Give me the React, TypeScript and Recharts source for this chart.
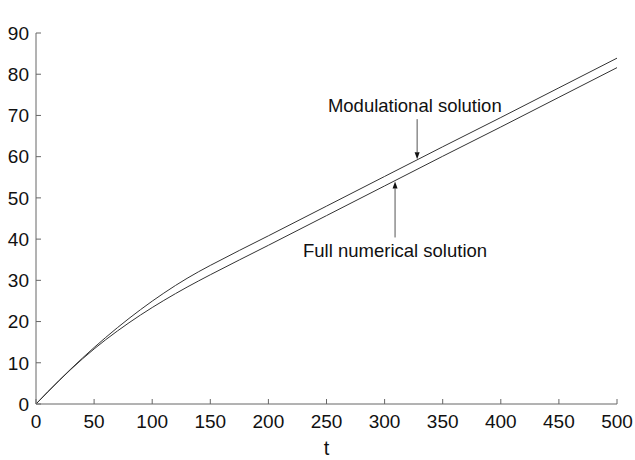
import React from "react";
import {
  LineChart,
  Line,
  XAxis,
  YAxis,
  ReferenceLine,
  ReferenceDot,
  Label,
} from "recharts";

const tValues = [0, 10, 20, 30, 40, 50, 60, 70, 80, 90, 100, 110, 120, 130, 140, 150, 200, 250, 300, 350, 400, 450, 500];
const modulational = [0, 2.9, 5.75, 8.5, 11.15, 13.7, 16.15, 18.5, 20.75, 22.9, 24.95, 26.9, 28.75, 30.48, 32.1, 33.62, 40.8, 48.0, 55.2, 62.4, 69.5, 76.7, 83.9];
const fullNumerical = [0, 2.9, 5.7, 8.4, 10.95, 13.35, 15.6, 17.7, 19.7, 21.6, 23.4, 25.12, 26.77, 28.35, 29.87, 31.35, 38.5, 45.7, 52.9, 60.1, 67.2, 74.4, 81.6];
const xTicks = [0, 50, 100, 150, 200, 250, 300, 350, 400, 450, 500];
const yTicks = [0, 10, 20, 30, 40, 50, 60, 70, 80, 90];

const data = tValues.map((t, i) => ({
  t,
  mod: modulational[i],
  full: fullNumerical[i],
}));

const FONT = "'Liberation Sans', Arial, Helvetica, sans-serif";
const AXIS = "#666";
const INK = "#333";

// vertical arrow, tip at (x2, y2)
const Arrow = (p: any) => {
  const { x1, y1, x2, y2 } = p;
  if (x1 == null || y2 == null) return null;
  const s = y2 > y1 ? 1 : -1;
  const head = 7;
  return (
    <g>
      <line x1={x1} y1={y1} x2={x2} y2={y2 - s * head} stroke="#555" strokeWidth={1} />
      <polygon
        points={`${x2 - 2.5},${y2 - s * head} ${x2 + 2.5},${y2 - s * head} ${x2},${y2}`}
        fill="#111"
      />
    </g>
  );
};

const noteLabel = (text: string) => (props: any) => {
  const { viewBox } = props;
  if (!viewBox) return null;
  const cx = viewBox.x + (viewBox.width || 0) / 2;
  const cy = viewBox.y + (viewBox.height || 0) / 2;
  return (
    <text x={cx} y={cy} dy="0.355em" textAnchor="middle" fontSize={18.5} fontFamily={FONT} fill="#111">
      {text}
    </text>
  );
};

export default function App() {
  return (
    <div style={{ position: "absolute", left: 0, top: 0, background: "#fff" }}>
      <LineChart
        width={635}
        height={460}
        data={data}
        margin={{ top: 33, right: 18, bottom: 0, left: 0 }}
      >
        <XAxis
          dataKey="t"
          type="number"
          domain={[0, 500]}
          ticks={xTicks}
          interval={0}
          height={56}
          stroke={AXIS}
          tickSize={-5}
          tickMargin={16}
          tick={{ fill: "#111", fontSize: 19, fontFamily: FONT }}
        >
          <Label value="t" position="insideBottom" offset={5} fill="#111" fontSize={20} fontFamily={FONT} />
        </XAxis>
        <XAxis
          xAxisId="top"
          orientation="top"
          dataKey="t"
          type="number"
          domain={[0, 500]}
          ticks={xTicks}
          interval={0}
          height={0}
          stroke={AXIS}
          tickSize={-5}
          tick={false}
        >
          <Label value="ξ(t)" position="top" offset={12} fill="#111" fontSize={18} fontFamily={FONT} />
        </XAxis>
        <YAxis
          type="number"
          domain={[0, 90]}
          ticks={yTicks}
          interval={0}
          width={36}
          stroke={AXIS}
          tickSize={-5}
          tickMargin={12}
          tick={{ fill: "#111", fontSize: 19, fontFamily: FONT }}
        />
        <YAxis
          yAxisId="right"
          orientation="right"
          type="number"
          domain={[0, 90]}
          ticks={yTicks}
          interval={0}
          width={0}
          stroke={AXIS}
          tickSize={-5}
          tick={false}
        />
        <Line dataKey="mod" type="monotone" stroke={INK} strokeWidth={1} dot={false} isAnimationActive={false} />
        <Line dataKey="full" type="monotone" stroke={INK} strokeWidth={1} dot={false} isAnimationActive={false} />
        <ReferenceLine segment={[{ x: 328, y: 69.1 }, { x: 328, y: 59.4 }]} shape={Arrow} />
        <ReferenceLine segment={[{ x: 309, y: 40.4 }, { x: 309, y: 54.0 }]} shape={Arrow} />
        <ReferenceDot x={326} y={72.5} r={0} stroke="none" fill="none" label={noteLabel("Modulational solution")} />
        <ReferenceDot x={309} y={37.2} r={0} stroke="none" fill="none" label={noteLabel("Full numerical solution")} />
      </LineChart>
    </div>
  );
}
